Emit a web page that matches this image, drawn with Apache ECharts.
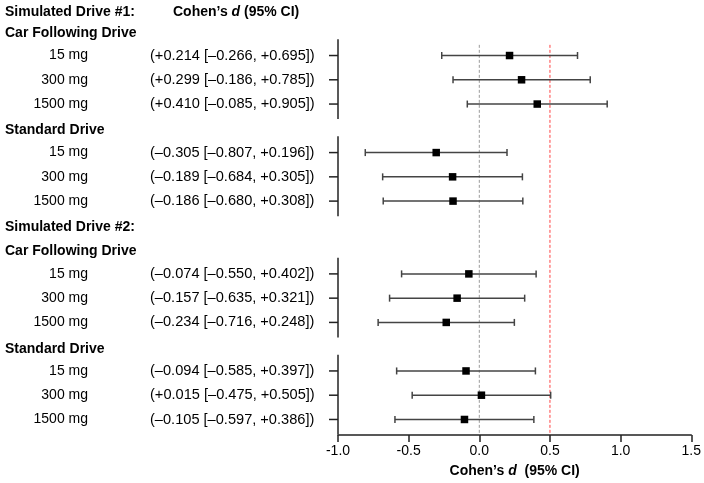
<!DOCTYPE html>
<html><head><meta charset="utf-8">
<script src="https://cdn.jsdelivr.net/npm/echarts@6/dist/echarts.min.js"></script>
<style>html,body{margin:0;padding:0;background:#fff}#c{width:704px;height:483px}</style>
</head><body><div id="c"></div>
<script>
// ---- data ----
const drives = ['Simulated Drive #1:', 'Simulated Drive #2:'];
const conditions = ['Car Following Drive', 'Standard Drive'];
const doses = ['15 mg', '300 mg', '1500 mg'];
const estimate = [0.214, 0.299, 0.410, -0.305, -0.189, -0.186, -0.074, -0.157, -0.234, -0.094, 0.015, -0.105];
const lower = [-0.266, -0.186, -0.085, -0.807, -0.684, -0.680, -0.550, -0.635, -0.716, -0.585, -0.475, -0.597];
const upper = [0.695, 0.785, 0.905, 0.196, 0.305, 0.308, 0.402, 0.321, 0.248, 0.397, 0.505, 0.386];
const xTicks = [-1.0, -0.5, 0.0, 0.5, 1.0, 1.5];
const refLines = [0, 0.5];
const refColors = ['#9a9a9a', '#ff4040'];

const FONT = '"Liberation Sans", Arial, Helvetica, sans-serif';

// ---- layout rows ----
let row = 0;
const headers = [];   // {text,row,kind}
const items = [];     // {row, idx, dose}
const blocks = [];    // [firstRow,lastRow]
let idx = 0;
drives.forEach((d) => {
  headers.push({ text: d, row: row, kind: 'drive' }); row++;
  conditions.forEach((c) => {
    headers.push({ text: c, row: row, kind: 'cond' }); row++;
    const start = row;
    doses.forEach((ds) => { items.push({ row: row, idx: idx, dose: ds }); idx++; row++; });
    blocks.push([start, row - 1]);
  });
});
const yMax = row - 1 + 0.64;

function fmt(v) { return (v >= 0 ? '+' : '–') + Math.abs(v).toFixed(3); }

const chart = echarts.init(document.getElementById('c'), null, { renderer: 'canvas' });

const option = {
  animation: false,
  backgroundColor: '#ffffff',
  grid: { left: 338, right: 12, top: 7, bottom: 48, containLabel: false },
  xAxis: {
    type: 'value', min: xTicks[0], max: xTicks[xTicks.length - 1], interval: 0.5,
    position: 'bottom',
    splitLine: { show: false },
    axisLine: { show: true, onZero: false, lineStyle: { color: '#222', width: 1.5 } },
    axisTick: { show: true, length: 7, lineStyle: { color: '#222', width: 1.5 } },
    axisLabel: { color: '#000', fontSize: 14, fontFamily: FONT, margin: 9,
      formatter: (v) => v.toFixed(1) },
    name: 'Cohen’s {i|d}  (95% CI)',
    nameLocation: 'middle', nameGap: 29,
    nameTextStyle: { color: '#000', fontSize: 14, fontWeight: 'bold', fontFamily: FONT,
      rich: { i: { fontStyle: 'italic', fontWeight: 'bold', fontSize: 14, fontFamily: FONT, color: '#000' } } }
  },
  yAxis: { type: 'value', min: 0, max: yMax, inverse: true, show: false },
  series: [
    // reference lines
    {
      type: 'custom', silent: true,
      data: refLines.map((v, i) => [v, i]),
      renderItem: (params, api) => {
        const x = api.value(0), i = api.value(1);
        const p1 = api.coord([x, 1.56]);
        const p2 = api.coord([x, yMax]);
        return { type: 'line', shape: { x1: p1[0], y1: p1[1], x2: p2[0], y2: p2[1] },
          style: { stroke: refColors[i], lineWidth: 1, lineDash: [3, 2] } };
      }
    },
    // y-axis segments
    {
      type: 'custom', silent: true,
      data: blocks.map(b => [xTicks[0], b[0], b[1]]),
      renderItem: (params, api) => {
        const x = api.value(0), a = api.value(1), b = api.value(2);
        const top = api.coord([x, a - 0.67]);
        const bot = api.coord([x, Math.min(b + 0.62, yMax)]);
        const children = [{ type: 'line', shape: { x1: top[0], y1: top[1], x2: bot[0], y2: bot[1] },
          style: { stroke: '#222', lineWidth: 1.5 } }];
        for (let r = a; r <= b; r++) {
          const p = api.coord([x, r]);
          children.push({ type: 'line', shape: { x1: p[0] - 9, y1: p[1], x2: p[0], y2: p[1] },
            style: { stroke: '#222', lineWidth: 1.5 } });
        }
        return { type: 'group', children };
      }
    },
    // error bars + squares
    {
      type: 'custom', silent: true,
      data: items.map(it => [estimate[it.idx], lower[it.idx], upper[it.idx], it.row]),
      renderItem: (params, api) => {
        const e = api.value(0), l = api.value(1), u = api.value(2), r = api.value(3);
        const pl = api.coord([l, r]), pu = api.coord([u, r]), pe = api.coord([e, r]);
        const cap = 3.5, s = 7.5;
        return { type: 'group', children: [
          { type: 'line', shape: { x1: pl[0], y1: pl[1], x2: pu[0], y2: pu[1] }, style: { stroke: '#444', lineWidth: 1.5 } },
          { type: 'line', shape: { x1: pl[0], y1: pl[1] - cap, x2: pl[0], y2: pl[1] + cap }, style: { stroke: '#444', lineWidth: 1.5 } },
          { type: 'line', shape: { x1: pu[0], y1: pu[1] - cap, x2: pu[0], y2: pu[1] + cap }, style: { stroke: '#444', lineWidth: 1.5 } },
          { type: 'rect', shape: { x: pe[0] - s / 2, y: pe[1] - s / 2, width: s, height: s }, style: { fill: '#000' } }
        ] };
      }
    },
    // left text: dose + estimate label
    {
      type: 'custom', silent: true, clip: false,
      data: items.map(it => [xTicks[0], it.row, it.idx]),
      renderItem: (params, api) => {
        const r = api.value(1), k = api.value(2);
        const p = api.coord([xTicks[0], r]);
        const it = items[k];
        const lab = '(' + fmt(estimate[k]) + ' [' + fmt(lower[k]) + ', ' + fmt(upper[k]) + '])';
        return { type: 'group', children: [
          { type: 'text', x: 88, y: p[1], style: { text: it.dose, align: 'right', verticalAlign: 'middle',
            font: '14px ' + FONT, fill: '#000' } },
          { type: 'text', x: 150, y: p[1], style: { text: lab, align: 'left', verticalAlign: 'middle',
            font: '14.6px ' + FONT, fill: '#000' } }
        ] };
      }
    },
    // headers
    {
      type: 'custom', silent: true, clip: false,
      data: headers.map((h, i) => [xTicks[0], h.row, i]),
      renderItem: (params, api) => {
        const r = api.value(1), i = api.value(2);
        const p = api.coord([xTicks[0], r]);
        const h = headers[i];
        const off = (h.kind === 'drive' && r === 0) ? 5 : 2;
        return { type: 'text', x: 5, y: p[1] + off, style: { text: h.text, align: 'left', verticalAlign: 'middle',
          font: 'bold 14px ' + FONT, fill: '#000' } };
      }
    }
  ],
  graphic: [
    { type: 'text', left: 173, top: 5, style: { text: 'Cohen’s {i|d} (95% CI)', font: 'bold 14px ' + FONT, fill: '#000',
      rich: { i: { fontStyle: 'italic', fontWeight: 'bold', fontSize: 14, fontFamily: FONT, fill: '#000' } } } }
  ]
};
chart.setOption(option);
</script></body></html>
